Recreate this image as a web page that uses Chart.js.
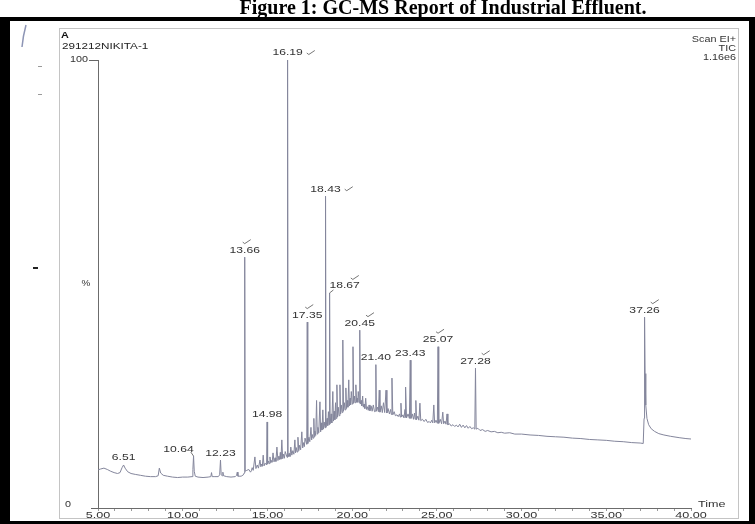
<!DOCTYPE html>
<html>
<head>
<meta charset="utf-8">
<script src="https://cdn.jsdelivr.net/npm/chart.js@4.4.1/dist/chart.umd.min.js"></script>
<style>
  html, body { margin: 0; padding: 0; background: #ffffff; }
  canvas { display: block; }
</style>
</head>
<body>
<canvas id="tic" width="755" height="524" style="width:755px;height:524px"></canvas>
<script>
// Total ion chromatogram, sample 291212NIKITA-1 (Scan EI+, TIC, full scale 1.16e6)
// Each trace segment is a list of [retention time (min), relative abundance (%)].

const earlyTrace = [
  [5.00, 8.5], [5.15, 8.7], [5.35, 8.9], [5.55, 8.6], [5.75, 8.2], [5.95, 7.9],
  [6.15, 7.7], [6.30, 7.9], [6.42, 9.0], [6.51, 9.6], [6.60, 8.9], [6.75, 8.1],
  [6.95, 7.7], [7.20, 7.5], [7.50, 7.3], [7.80, 7.1], [8.10, 7.0], [8.40, 7.0],
  [8.55, 7.2], [8.62, 8.9], [8.70, 7.8], [8.85, 7.3], [9.10, 7.1], [9.40, 6.9],
  [9.70, 6.8], [10.00, 6.9], [10.30, 6.9], [10.55, 7.0], [10.60, 8.6], [10.64, 11.6],
  [10.68, 8.2], [10.74, 7.1], [10.90, 6.9], [11.20, 6.8], [11.50, 6.9], [11.66, 7.0],
  [11.70, 7.9], [11.74, 7.0], [11.90, 7.0], [12.10, 7.0], [12.18, 7.4], [12.23, 10.7],
  [12.27, 7.4], [12.33, 7.2], [12.37, 8.0], [12.41, 7.2], [12.60, 7.0], [12.85, 6.9],
  [13.10, 7.0], [13.18, 7.3], [13.22, 8.0], [13.26, 7.1], [13.45, 7.1], [13.58, 7.4],
  [13.63, 7.8], [13.66, 56.0], [13.69, 8.2], [13.78, 8.4], [13.90, 8.6], [14.00, 8.0]
];

const humpTrace = [
  [14.05, 8.3], [14.10, 9.0], [14.16, 8.4], [14.26, 11.4], [14.32, 8.8], [14.40, 9.6],
  [14.47, 8.9], [14.56, 10.7], [14.61, 9.2], [14.66, 9.8], [14.70, 9.3], [14.75, 11.8],
  [14.80, 9.4], [14.86, 10.0], [14.95, 9.6], [14.98, 19.2], [15.01, 9.8], [15.07, 10.5],
  [15.11, 9.9], [15.15, 11.4], [15.20, 10.1], [15.24, 10.6], [15.28, 10.2], [15.33, 12.3],
  [15.39, 10.3], [15.45, 11.2], [15.50, 10.4], [15.56, 13.6], [15.62, 10.6], [15.68, 11.6],
  [15.72, 10.8], [15.76, 12.4], [15.80, 10.9], [15.85, 15.2], [15.90, 11.0], [15.95, 12.0],
  [16.00, 11.1], [16.05, 12.6], [16.16, 11.3], [16.19, 100.0], [16.22, 11.4], [16.28, 12.2],
  [16.33, 11.5], [16.38, 13.6], [16.44, 11.8], [16.50, 12.8], [16.56, 12.0], [16.62, 15.2],
  [16.66, 12.3], [16.70, 13.5], [16.75, 12.5], [16.80, 15.8], [16.85, 12.8], [16.90, 14.0],
  [16.96, 13.0], [17.03, 17.0], [17.08, 13.4], [17.14, 14.6], [17.18, 13.7], [17.22, 15.6],
  [17.32, 14.2], [17.35, 41.5], [17.38, 14.4], [17.45, 15.8], [17.50, 14.8], [17.57, 18.0],
  [17.61, 15.2], [17.65, 16.4], [17.69, 15.6], [17.74, 20.0], [17.77, 15.9], [17.80, 17.2],
  [17.85, 16.2], [17.90, 24.0], [17.94, 16.5], [17.98, 18.0], [18.03, 16.8], [18.10, 23.7],
  [18.14, 17.0], [18.18, 19.0], [18.22, 17.4], [18.27, 21.9], [18.31, 17.6], [18.35, 19.2],
  [18.40, 17.9], [18.43, 69.6], [18.46, 18.0], [18.52, 20.0], [18.56, 18.4], [18.60, 21.5],
  [18.64, 18.6], [18.67, 48.0], [18.70, 18.8], [18.76, 21.0], [18.80, 19.0], [18.86, 26.0],
  [18.90, 19.4], [18.94, 21.6], [18.98, 19.7], [19.02, 23.5], [19.06, 20.0], [19.10, 27.5],
  [19.14, 20.3], [19.18, 22.5], [19.23, 20.6], [19.28, 27.5], [19.32, 21.0], [19.36, 23.0],
  [19.41, 21.3], [19.45, 37.5], [19.49, 21.6], [19.54, 23.5], [19.58, 21.9], [19.63, 26.8],
  [19.67, 22.2], [19.71, 24.0], [19.75, 22.5], [19.80, 28.6], [19.84, 22.8], [19.88, 24.5],
  [19.91, 23.0], [19.95, 26.0], [20.01, 23.2], [20.05, 36.0], [20.09, 23.4], [20.13, 25.0],
  [20.17, 23.5], [20.22, 27.5], [20.26, 23.6], [20.30, 24.5], [20.33, 23.6], [20.36, 26.0],
  [20.42, 23.5], [20.45, 39.7], [20.48, 23.2], [20.53, 24.0], [20.57, 22.8], [20.62, 25.0],
  [20.66, 22.5], [20.70, 23.2], [20.75, 22.2], [20.80, 24.5], [20.85, 22.0], [20.90, 22.6],
  [20.95, 21.8], [21.00, 23.0], [21.05, 21.7]
];

const midTrace = [
  [21.12, 22.8], [21.18, 21.6], [21.25, 23.0], [21.32, 21.5], [21.37, 21.6], [21.40, 32.0],
  [21.43, 21.6], [21.50, 22.5], [21.55, 21.5], [21.60, 26.3], [21.64, 21.4], [21.72, 22.8],
  [21.78, 21.3], [21.85, 23.5], [21.92, 21.3], [22.00, 26.3], [22.05, 21.2], [22.12, 22.2],
  [22.20, 21.0], [22.27, 22.0], [22.31, 20.9], [22.35, 29.0], [22.40, 20.8], [22.48, 21.5],
  [22.55, 20.6], [22.65, 20.8], [22.72, 20.4], [22.80, 21.0], [22.84, 20.3], [22.88, 23.4],
  [22.92, 20.3], [23.00, 20.8], [23.06, 20.1], [23.12, 22.0], [23.14, 20.2], [23.17, 27.0],
  [23.21, 20.1], [23.30, 21.0], [23.38, 20.0], [23.43, 33.0], [23.47, 20.0], [23.55, 21.0],
  [23.62, 19.8], [23.68, 21.2], [23.72, 19.8], [23.76, 24.0], [23.80, 19.7], [23.88, 20.5],
  [23.94, 19.6], [24.00, 23.4], [24.05, 19.5], [24.15, 19.8], [24.25, 19.3], [24.35, 19.8],
  [24.45, 19.1], [24.55, 19.3], [24.62, 19.0], [24.70, 19.6], [24.76, 19.0], [24.82, 23.0],
  [24.87, 19.0], [24.95, 19.6], [25.03, 18.9], [25.07, 36.0], [25.11, 18.9], [25.20, 19.8],
  [25.28, 18.8], [25.35, 21.4], [25.40, 18.8], [25.48, 19.4], [25.54, 18.7], [25.60, 21.0],
  [25.65, 18.6], [25.75, 18.8], [25.85, 18.3], [25.95, 18.6], [26.05, 18.2], [26.15, 18.5],
  [26.25, 18.1], [26.35, 18.7], [26.45, 18.0], [26.55, 18.5], [26.65, 17.9], [26.75, 18.4],
  [26.85, 17.8], [26.95, 18.2], [27.05, 17.7], [27.15, 17.9], [27.24, 17.6], [27.28, 31.2],
  [27.32, 17.6], [27.42, 17.8], [27.55, 17.3], [27.70, 17.5], [27.85, 17.1], [28.00, 17.3]
];

const lateTrace = [
  [28.20, 17.0], [28.40, 17.1], [28.60, 16.8], [28.80, 16.9], [29.00, 16.7], [29.30, 16.8],
  [29.60, 16.5], [30.00, 16.5], [30.50, 16.3], [31.00, 16.2], [31.50, 16.0], [32.00, 15.9],
  [32.50, 15.8], [33.00, 15.6], [33.50, 15.5], [34.00, 15.3], [34.50, 15.2], [35.00, 15.1],
  [35.50, 14.9], [36.00, 14.8], [36.50, 14.6], [37.00, 14.5], [37.18, 14.4], [37.23, 20.0],
  [37.26, 42.6], [37.29, 30.0], [37.33, 23.0], [37.40, 20.0], [37.50, 18.6], [37.65, 17.7],
  [37.85, 17.1], [38.10, 16.6], [38.40, 16.3], [38.80, 16.0], [39.30, 15.7], [39.70, 15.5],
  [40.00, 15.4]
];

// Labelled retention times (min)
const peakTimes = [6.51, 10.64, 12.23, 13.66, 14.98, 16.19, 17.35, 18.43, 18.67,
                   20.45, 21.40, 23.43, 25.07, 27.28, 37.26];

// Axis ticks
const timeTicks = [5, 10, 15, 20, 25, 30, 35, 40];
const timeTickLabels = ['5.00', '10.00', '15.00', '20.00', '25.00', '30.00', '35.00', '40.00'];
const abundanceTicks = [0, 50, 100];
const abundanceTickLabels = ['0', '%', '100'];

const trace = [...earlyTrace, ...humpTrace, ...midTrace, ...lateTrace];
const points = trace.map(([t, v]) => ({ x: t, y: v }));

const FONT = '"Liberation Sans", Arial, sans-serif';
const INK = '#333333';

// Text drawn with a horizontal stretch, as on the printed report
function wideText(ctx, text, x, y, align, size, sx, weight, color) {
  ctx.save();
  ctx.font = `${weight || 'normal'} ${size}px ${FONT}`;
  ctx.fillStyle = color || INK;
  ctx.textBaseline = 'middle';
  ctx.textAlign = 'left';
  const w = ctx.measureText(text).width * sx;
  let left = x;
  if (align === 'center') left = x - w / 2;
  else if (align === 'right') left = x - w;
  ctx.translate(left, y);
  ctx.scale(sx, 1);
  ctx.fillText(text, 0, 0);
  ctx.restore();
  return { left, right: left + w };
}

function tick(ctx, x, y) {
  ctx.beginPath();
  ctx.moveTo(x, y);
  ctx.lineTo(x + 2, y + 1.5);
  ctx.lineTo(x + 8, y - 2.5);
  ctx.stroke();
}

const markStyle = {
  '16.19': 'right', '18.43': 'right', '13.66': 'above', '17.35': 'above',
  '18.67': 'aboveRight', '20.45': 'aboveRight', '25.07': 'above',
  '27.28': 'aboveRight', '37.26': 'aboveRight'
};
const labelShift = { '18.67': 15, '10.64': -15 };

const pagePlugin = {
  id: 'page',
  beforeDraw(chart) {
    const { ctx, width, height } = chart;
    ctx.save();
    ctx.fillStyle = '#ffffff';
    ctx.fillRect(0, 0, width, height);
    ctx.restore();
  },
  afterDraw(chart) {
    const { ctx, width, height } = chart;
    const xs = chart.scales.x, ys = chart.scales.y;
    ctx.save();

    // caption above the frame
    ctx.font = `bold 20px "Liberation Serif", "Times New Roman", serif`;
    ctx.fillStyle = '#000';
    ctx.textBaseline = 'alphabetic';
    const cap = 'Figure 1: GC-MS Report of Industrial Effluent.';
    const cw = ctx.measureText(cap).width;
    ctx.fillText(cap, 443 - cw / 2, 14);

    // black border of the figure
    ctx.fillStyle = '#000';
    ctx.fillRect(0, 17, width, 4);
    ctx.fillRect(0, 17, 10, height - 17);
    ctx.fillRect(width - 6, 17, 6, height - 17);
    ctx.fillRect(0, height - 3, width, 3);

    // printed box of the report
    ctx.strokeStyle = '#c4c4c4';
    ctx.lineWidth = 1;
    ctx.strokeRect(59.5, 28.5, 679, 490);

    // pen marks on the sheet
    ctx.strokeStyle = '#8d95b5';
    ctx.lineWidth = 1.5;
    ctx.beginPath();
    ctx.moveTo(26, 25); ctx.quadraticCurveTo(23, 36, 22, 47);
    ctx.stroke();
    ctx.strokeStyle = '#9a9a9a';
    ctx.lineWidth = 1;
    ctx.beginPath(); ctx.moveTo(38, 66.5); ctx.lineTo(42, 66.5); ctx.stroke();
    ctx.beginPath(); ctx.moveTo(38, 94.5); ctx.lineTo(42, 94.5); ctx.stroke();
    ctx.strokeStyle = '#222';
    ctx.lineWidth = 2;
    ctx.beginPath(); ctx.moveTo(33, 268); ctx.lineTo(38, 268); ctx.stroke();

    // header text
    wideText(ctx, 'A', 61, 36, 'left', 9, 1.2, 'bold', '#111');
    wideText(ctx, '291212NIKITA-1', 62, 47, 'left', 9, 1.3, 'normal', '#222');
    wideText(ctx, 'Scan EI+', 736, 40, 'right', 9, 1.2);
    wideText(ctx, 'TIC', 736, 49, 'right', 9, 1.2);
    wideText(ctx, '1.16e6', 736, 58, 'right', 9, 1.2);

    // abundance axis labels and end ticks
    ctx.strokeStyle = '#666';
    ctx.lineWidth = 1;
    abundanceTicks.forEach((v, i) => {
      const py = ys.getPixelForValue(v);
      const lbl = abundanceTickLabels[i];
      if (lbl === '%') {
        wideText(ctx, lbl, 86, py, 'center', 9, 1.1);
      } else if (v === 100) {
        wideText(ctx, lbl, 88, py, 'right', 9, 1.2);
        ctx.beginPath(); ctx.moveTo(89, Math.round(py) + 0.5); ctx.lineTo(xs.left, Math.round(py) + 0.5); ctx.stroke();
      } else {
        wideText(ctx, lbl, 65, py - 3, 'left', 9, 1.2);
        ctx.beginPath(); ctx.moveTo(91, Math.round(py) + 0.5); ctx.lineTo(xs.left, Math.round(py) + 0.5); ctx.stroke();
      }
    });

    // time axis labels
    timeTicks.forEach((v, i) => {
      wideText(ctx, timeTickLabels[i], xs.getPixelForValue(v), 516, 'center', 9, 1.4);
    });
    wideText(ctx, 'Time', xs.right + 7, ys.bottom - 3, 'left', 9, 1.4);

    // retention time labels above their peaks
    ctx.strokeStyle = '#666';
    ctx.lineWidth = 0.9;
    peakTimes.forEach(t => {
      const key = t.toFixed(2);
      const pt = points.find(p => Math.abs(p.x - t) < 1e-6);
      if (!pt) return;
      const px = xs.getPixelForValue(pt.x);
      const py = ys.getPixelForValue(pt.y);
      const cx = px + (labelShift[key] || 0);
      const cy = py - 7;
      const box = wideText(ctx, key, cx, cy, 'center', 9, 1.35);
      if (labelShift[key]) {
        ctx.beginPath();
        if (labelShift[key] > 0) { ctx.moveTo(px, py); ctx.lineTo(box.left + 4, cy + 4); }
        else { ctx.moveTo(box.right - 3, cy + 3); ctx.lineTo(px, py); }
        ctx.stroke();
      }
      const style = markStyle[key];
      if (style === 'right') tick(ctx, box.right + 4, cy);
      else if (style === 'above') tick(ctx, cx - 2, cy - 8);
      else if (style === 'aboveRight') tick(ctx, box.right - 9, cy - 8);
    });

    ctx.restore();
  }
};

new Chart(document.getElementById('tic'), {
  type: 'line',
  data: {
    datasets: [{
      data: points,
      borderColor: '#84869c',
      borderWidth: 1,
      pointRadius: 0,
      tension: 0,
      fill: false
    }]
  },
  options: {
    responsive: false,
    animation: false,
    devicePixelRatio: 1,
    parsing: false,
    layout: { padding: { left: 0, right: 64, top: 60, bottom: 0 } },
    plugins: { legend: { display: false }, tooltip: { enabled: false } },
    scales: {
      x: {
        type: 'linear',
        min: 5,
        max: 40,
        afterFit: s => { s.height = 16; },
        ticks: { display: false, stepSize: 1 },
        grid: { display: true, drawOnChartArea: false, drawTicks: true, tickLength: 3, color: '#9a9a9a' },
        border: { display: true, color: '#6c6c6c', width: 1 }
      },
      y: {
        min: 0,
        max: 100,
        afterFit: s => { s.width = 98; },
        ticks: { display: false },
        grid: { display: false },
        border: { display: true, color: '#6c6c6c', width: 1 }
      }
    }
  },
  plugins: [pagePlugin]
});
</script>
</body>
</html>
